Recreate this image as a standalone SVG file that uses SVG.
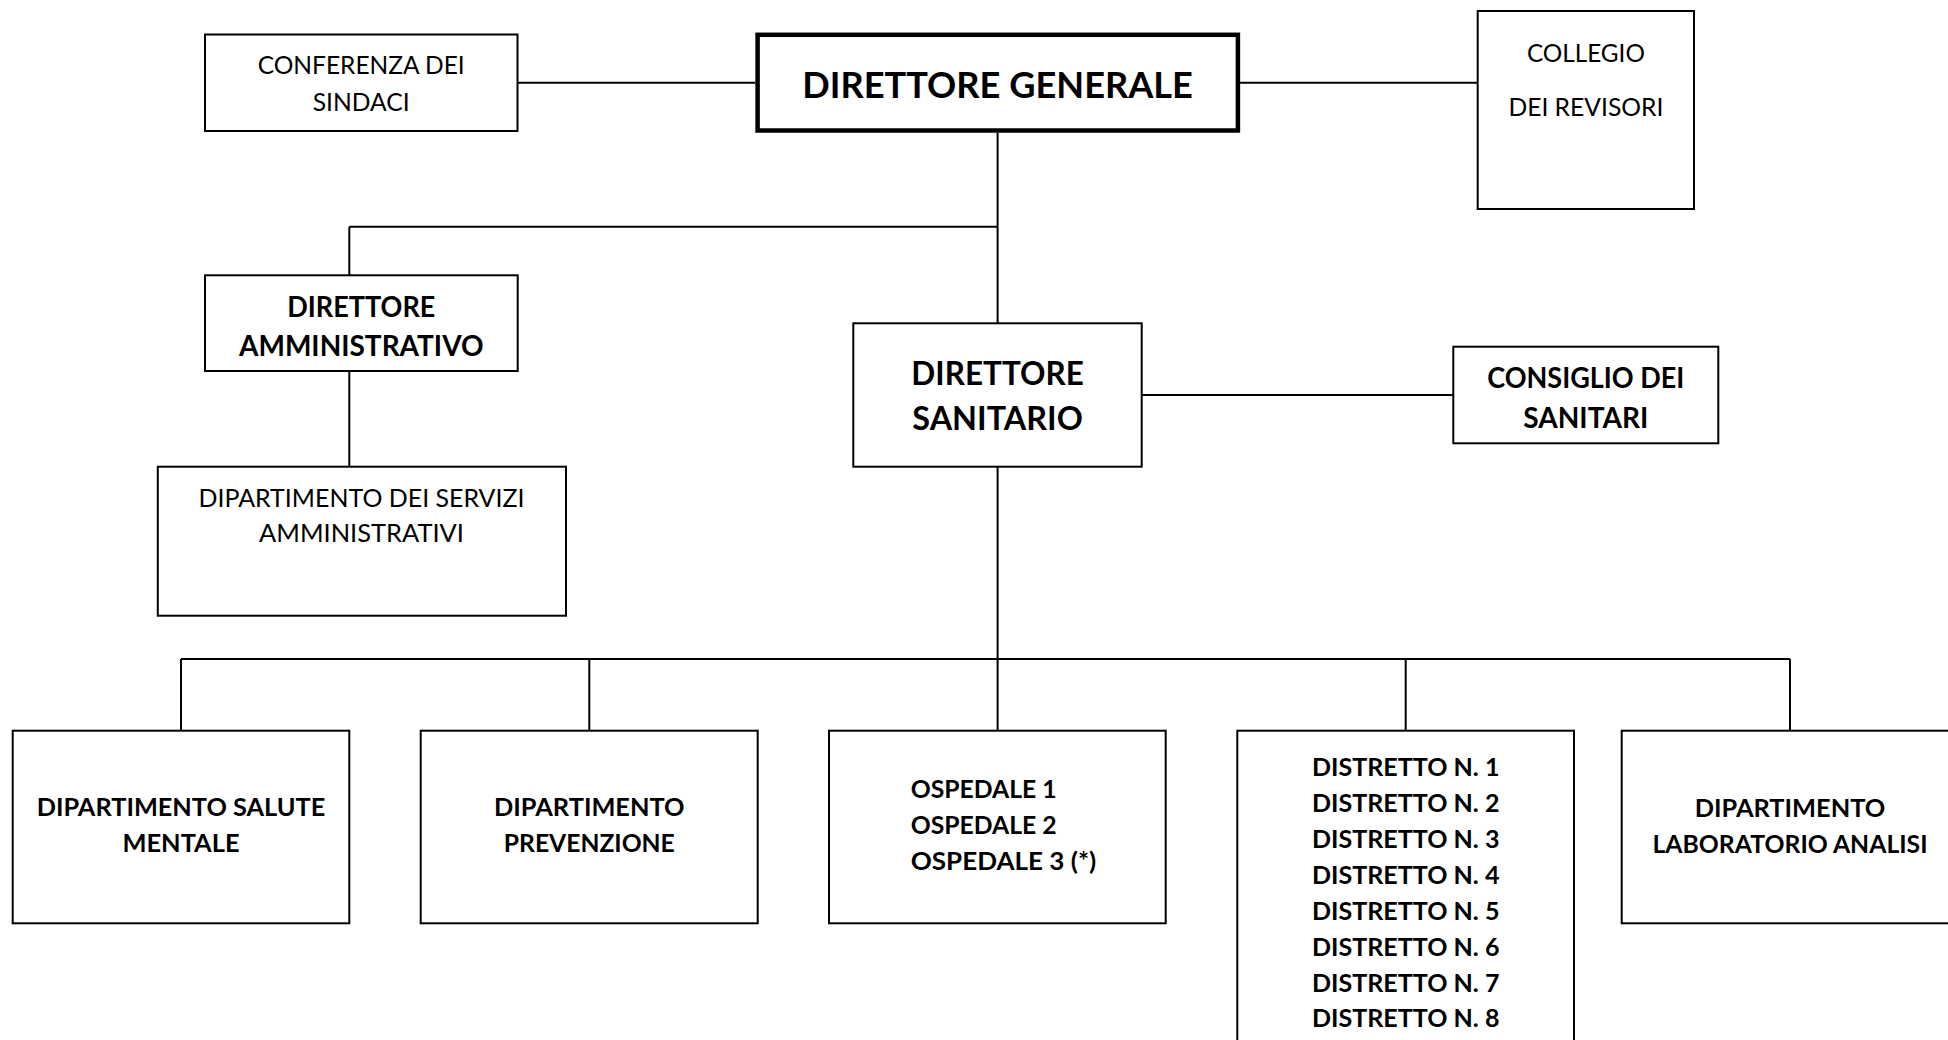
<svg xmlns="http://www.w3.org/2000/svg" width="1948" height="1040" viewBox="0 0 1948 1040">
  <style>
    .box { fill: #ffffff; stroke: #000000; stroke-width: 2; }
    .box-main { fill: #ffffff; stroke: #000000; stroke-width: 4.5; }
    .link { fill: none; stroke: #000000; stroke-width: 2; }
    text { font-family: "Lato", "Liberation Sans", sans-serif; fill: #000000; text-anchor: middle; }
    .reg { font-size: 25.5px; font-weight: 400; }
    .b22 { font-size: 25.5px; font-weight: 700; }
    .b24 { font-size: 27.8px; font-weight: 700; }
    .b28 { font-size: 32.5px; font-weight: 700; }
    .b32 { font-size: 37.1px; font-weight: 700; }
    .left { text-anchor: start; }
  </style>
  <rect width="1948" height="1040" fill="#ffffff"/>

  <!-- connectors -->
  <g id="connectors">
    <line class="link" x1="517.5" y1="82.7" x2="755.3" y2="82.7"/>
    <line class="link" x1="1240" y1="82.7" x2="1477.7" y2="82.7"/>
    <line class="link" x1="997.6" y1="132.7" x2="997.6" y2="323.3"/>
    <line class="link" x1="349.3" y1="226.7" x2="997.6" y2="226.7"/>
    <line class="link" x1="349.3" y1="226.7" x2="349.3" y2="275.3"/>
    <line class="link" x1="349.3" y1="371" x2="349.3" y2="466.7"/>
    <line class="link" x1="1141.7" y1="395" x2="1453.3" y2="395"/>
    <line class="link" x1="997.6" y1="466.7" x2="997.6" y2="659"/>
    <line class="link" x1="181" y1="659" x2="1790" y2="659"/>
    <line class="link" x1="181" y1="659" x2="181" y2="730.7"/>
    <line class="link" x1="589.3" y1="659" x2="589.3" y2="730.7"/>
    <line class="link" x1="997.6" y1="659" x2="997.6" y2="730.7"/>
    <line class="link" x1="1405.7" y1="659" x2="1405.7" y2="730.7"/>
    <line class="link" x1="1790" y1="659" x2="1790" y2="730.7"/>
  </g>

  <g id="conferenza-sindaci">
    <rect class="box" x="205" y="34.5" width="312.5" height="96.5"/>
    <text class="reg" x="361.2" y="74" textLength="207" lengthAdjust="spacingAndGlyphs">CONFERENZA DEI</text>
    <text class="reg" x="361.2" y="111" textLength="97" lengthAdjust="spacingAndGlyphs">SINDACI</text>
  </g>

  <g id="direttore-generale">
    <rect class="box-main" x="757.6" y="34.8" width="480.3" height="95.7"/>
    <text class="b32" x="997.6" y="98.3" textLength="390.6" lengthAdjust="spacingAndGlyphs">DIRETTORE GENERALE</text>
  </g>

  <g id="collegio-revisori">
    <rect class="box" x="1477.7" y="11" width="216.3" height="198"/>
    <text class="reg" x="1585.9" y="62.3" textLength="118" lengthAdjust="spacingAndGlyphs">COLLEGIO</text>
    <text class="reg" x="1585.9" y="116" textLength="155" lengthAdjust="spacingAndGlyphs">DEI REVISORI</text>
  </g>

  <g id="direttore-amministrativo">
    <rect class="box" x="205" y="275.3" width="312.7" height="95.7"/>
    <text class="b24" x="361.3" y="317.3" textLength="148" lengthAdjust="spacingAndGlyphs">DIRETTORE</text>
    <text class="b24" x="361.3" y="355.7" textLength="244.5" lengthAdjust="spacingAndGlyphs">AMMINISTRATIVO</text>
  </g>

  <g id="dipartimento-servizi-amministrativi">
    <rect class="box" x="157.8" y="466.7" width="408.2" height="149"/>
    <text class="reg" x="361.5" y="506.7" textLength="326" lengthAdjust="spacingAndGlyphs">DIPARTIMENTO DEI SERVIZI</text>
    <text class="reg" x="361.5" y="542.3" textLength="205" lengthAdjust="spacingAndGlyphs">AMMINISTRATIVI</text>
  </g>

  <g id="direttore-sanitario">
    <rect class="box" x="853.3" y="323.3" width="288.4" height="143.4"/>
    <text class="b28" x="997.6" y="385" textLength="172.5" lengthAdjust="spacingAndGlyphs">DIRETTORE</text>
    <text class="b28" x="997.6" y="430" textLength="170.5" lengthAdjust="spacingAndGlyphs">SANITARIO</text>
  </g>

  <g id="consiglio-sanitari">
    <rect class="box" x="1453.3" y="346.7" width="265" height="96.6"/>
    <text class="b24" x="1585.8" y="388.3" textLength="197" lengthAdjust="spacingAndGlyphs">CONSIGLIO DEI</text>
    <text class="b24" x="1585.8" y="427.7" textLength="125" lengthAdjust="spacingAndGlyphs">SANITARI</text>
  </g>

  <g id="dipartimento-salute-mentale">
    <rect class="box" x="12.7" y="730.7" width="336.6" height="192.6"/>
    <text class="b22" x="181" y="816" textLength="288.5" lengthAdjust="spacingAndGlyphs">DIPARTIMENTO SALUTE</text>
    <text class="b22" x="181" y="852" textLength="117.2" lengthAdjust="spacingAndGlyphs">MENTALE</text>
  </g>

  <g id="dipartimento-prevenzione">
    <rect class="box" x="420.7" y="730.7" width="337" height="192.6"/>
    <text class="b22" x="589.3" y="816" textLength="190.5" lengthAdjust="spacingAndGlyphs">DIPARTIMENTO</text>
    <text class="b22" x="589.3" y="852" textLength="171" lengthAdjust="spacingAndGlyphs">PREVENZIONE</text>
  </g>

  <g id="ospedali">
    <rect class="box" x="829" y="730.7" width="336.7" height="192.6"/>
    <text class="b22 left" x="910.7" y="798.3" textLength="146" lengthAdjust="spacingAndGlyphs">OSPEDALE 1</text>
    <text class="b22 left" x="910.7" y="834.3" textLength="146" lengthAdjust="spacingAndGlyphs">OSPEDALE 2</text>
    <text class="b22 left" x="910.7" y="870" textLength="185.5" lengthAdjust="spacingAndGlyphs">OSPEDALE 3 (*)</text>
  </g>

  <g id="distretti">
    <rect class="box" x="1237.3" y="730.7" width="336.7" height="330"/>
    <text class="b22" x="1405.7" y="776" textLength="187.5" lengthAdjust="spacingAndGlyphs">DISTRETTO N. 1</text>
    <text class="b22" x="1405.7" y="812" textLength="187.5" lengthAdjust="spacingAndGlyphs">DISTRETTO N. 2</text>
    <text class="b22" x="1405.7" y="848" textLength="187.5" lengthAdjust="spacingAndGlyphs">DISTRETTO N. 3</text>
    <text class="b22" x="1405.7" y="884" textLength="187.5" lengthAdjust="spacingAndGlyphs">DISTRETTO N. 4</text>
    <text class="b22" x="1405.7" y="920" textLength="187.5" lengthAdjust="spacingAndGlyphs">DISTRETTO N. 5</text>
    <text class="b22" x="1405.7" y="955.8" textLength="187.5" lengthAdjust="spacingAndGlyphs">DISTRETTO N. 6</text>
    <text class="b22" x="1405.7" y="991.6" textLength="187.5" lengthAdjust="spacingAndGlyphs">DISTRETTO N. 7</text>
    <text class="b22" x="1405.7" y="1027.4" textLength="187.5" lengthAdjust="spacingAndGlyphs">DISTRETTO N. 8</text>
  </g>

  <g id="dipartimento-laboratorio-analisi">
    <rect class="box" x="1621.7" y="730.7" width="340" height="192.6"/>
    <text class="b22" x="1790" y="816.7" textLength="190.5" lengthAdjust="spacingAndGlyphs">DIPARTIMENTO</text>
    <text class="b22" x="1790" y="853.3" textLength="275" lengthAdjust="spacingAndGlyphs">LABORATORIO ANALISI</text>
  </g>
</svg>
